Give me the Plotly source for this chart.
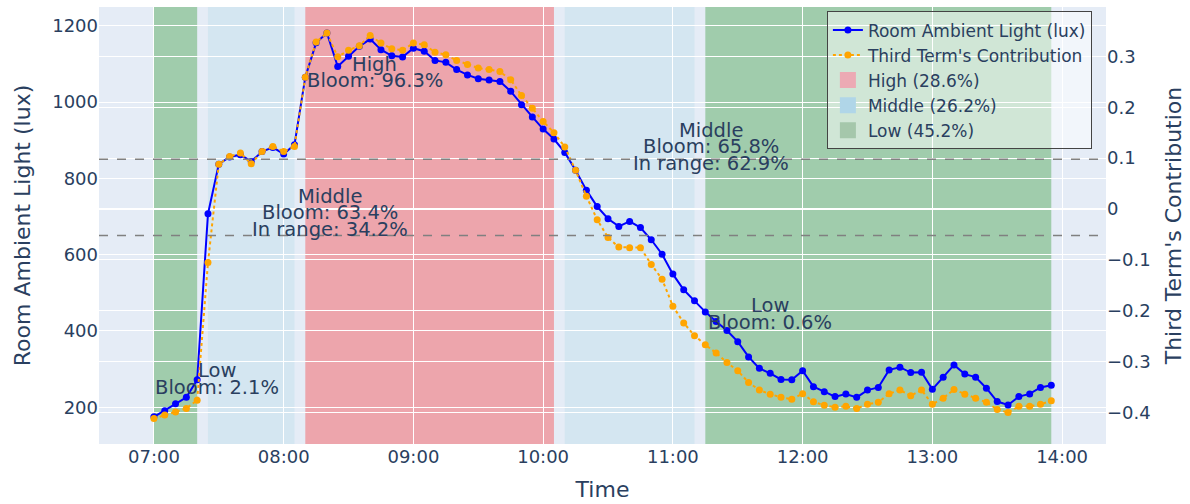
import pandas as pd
import plotly.graph_objects as go

# ---------------- data ----------------
start_time = "2024-01-01 07:00"
n_points = 84
times = pd.date_range(start_time, periods=n_points, freq="5min")

light_lux = [
    175, 191, 209, 226, 272, 707, 837, 856, 862, 844,
    870, 881, 864, 888, 1065, 1155, 1181, 1093, 1120, 1146,
    1165, 1137, 1121, 1118, 1141, 1133, 1109, 1104, 1085, 1071,
    1061, 1058, 1054, 1028, 993, 961, 929, 903, 868, 821,
    769, 726, 694, 674, 687, 671, 639, 601, 549, 508,
    479, 450, 425, 401, 372, 332, 302, 289, 273, 272,
    296, 254, 241, 228, 235, 226, 245, 252, 298, 305,
    291, 292, 247, 279, 311, 287, 279, 250, 215, 206,
    228, 235, 252, 258,
]

third_term = [
    -0.412, -0.405, -0.399, -0.392, -0.376, -0.105, 0.088, 0.103, 0.110, 0.089,
    0.113, 0.123, 0.113, 0.123, 0.259, 0.328, 0.346, 0.299, 0.312, 0.321,
    0.341, 0.326, 0.315, 0.312, 0.326, 0.323, 0.308, 0.303, 0.292, 0.284,
    0.277, 0.274, 0.270, 0.254, 0.223, 0.198, 0.172, 0.150, 0.122, 0.076,
    0.025, -0.021, -0.056, -0.075, -0.076, -0.076, -0.109, -0.138, -0.191, -0.224,
    -0.249, -0.267, -0.283, -0.302, -0.318, -0.341, -0.356, -0.364, -0.370, -0.374,
    -0.363, -0.379, -0.386, -0.390, -0.388, -0.392, -0.384, -0.380, -0.363, -0.356,
    -0.367, -0.356, -0.384, -0.372, -0.355, -0.364, -0.372, -0.380, -0.394, -0.400,
    -0.388, -0.388, -0.384, -0.377,
]

# bloom-level segments
seg_start = ["2024-01-01 07:00", "2024-01-01 07:25", "2024-01-01 08:10",
             "2024-01-01 10:10", "2024-01-01 11:15"]
seg_end = ["2024-01-01 07:20", "2024-01-01 08:05", "2024-01-01 10:05",
           "2024-01-01 11:10", "2024-01-01 13:55"]
seg_level = ["Low", "Middle", "High", "Middle", "Low"]

level_names = ["High", "Middle", "Low"]
level_share = [28.6, 26.2, 45.2]

# segment labels
label_lines = [
    ["Low", "Bloom: 2.1%"],
    ["Middle", "Bloom: 63.4%", "In range: 34.2%"],
    ["High", "Bloom: 96.3%"],
    ["Middle", "Bloom: 65.8%", "In range: 62.9%"],
    ["Low", "Bloom: 0.6%"],
]
label_time = ["2024-01-01 07:29:20", "2024-01-01 08:21:36", "2024-01-01 08:42:14",
              "2024-01-01 11:17:32", "2024-01-01 11:44:56"]
label_value = [274, 710, 1077, 883, 445]

range_thresholds = [650, 850]

# ---------------- styling ----------------
level_fill = {"High": "red", "Middle": "lightblue", "Low": "green"}
level_icon = {"High": "rgb(236,170,180)", "Middle": "rgb(176,214,232)", "Low": "rgb(165,199,171)"}
FONT = "DejaVu Sans"
TXT = "#2a3f5f"

fig = go.Figure()

fig.add_trace(go.Scatter(
    x=times, y=light_lux, name="Room Ambient Light (lux)",
    mode="lines+markers", line=dict(color="blue", width=2),
    marker=dict(color="blue", size=7), yaxis="y",
))
fig.add_trace(go.Scatter(
    x=times, y=third_term, name="Third Term's Contribution",
    mode="lines+markers", line=dict(color="orange", width=2, dash="dot"),
    marker=dict(color="orange", size=7), yaxis="y2",
))

for lvl, share in zip(level_names, level_share):
    fig.add_trace(go.Scatter(
        x=[None], y=[None], mode="markers", name=f"{lvl} ({share}%)",
        marker=dict(symbol="square", size=16, color=level_icon[lvl]),
        showlegend=True,
    ))

for s, e, lvl in zip(seg_start, seg_end, seg_level):
    fig.add_vrect(x0=s, x1=e, fillcolor=level_fill[lvl], opacity=0.3,
                  line_width=0, layer="below")

for th in range_thresholds:
    fig.add_hline(y=th, line=dict(color="gray", width=1.5, dash="dash"))

line_gap = 16.5
for lines, t, v in zip(label_lines, label_time, label_value):
    n = len(lines)
    for k, txt in enumerate(lines):
        fig.add_annotation(
            x=t, y=v, xref="x", yref="y", text=txt, showarrow=False,
            yshift=((n - 1) / 2 - k) * line_gap,
            font=dict(family=FONT, size=19.5, color=TXT),
        )

fig.update_layout(
    width=1190, height=504,
    template="plotly",
    font=dict(family=FONT, size=18, color=TXT),
    margin=dict(l=99, r=84, t=7, b=60),
    xaxis=dict(
        title=dict(text="Time", font=dict(size=22)),
        type="date", tickformat="%H:%M", dtick=3600000,
        range=["2024-01-01 06:34:36", "2024-01-01 14:20:18"],
        tickfont=dict(size=18),
    ),
    yaxis=dict(
        title=dict(text="Room Ambient Light (lux)", font=dict(size=22)),
        range=[103.8, 1249], dtick=200, tickfont=dict(size=18),
    ),
    yaxis2=dict(
        title=dict(text="Third Term's Contribution", font=dict(size=22)),
        overlaying="y", side="right", range=[-0.462, 0.397],
        dtick=0.1, tick0=0, tickfont=dict(size=18),
    ),
    legend=dict(
        x=0.986, y=0.99, xanchor="right", yanchor="top",
        bgcolor="rgba(255,255,255,0.5)", bordercolor="#444", borderwidth=1,
        font=dict(size=17),
    ),
)

fig.write_html("out.html")
